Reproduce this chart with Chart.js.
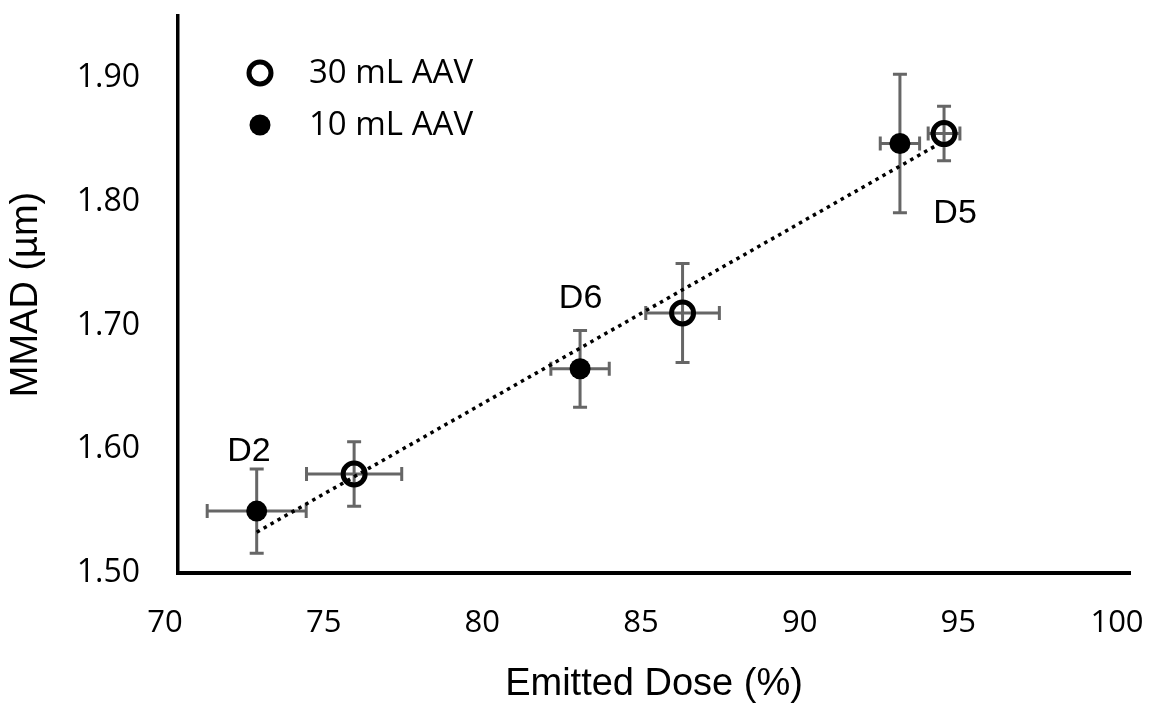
<!DOCTYPE html>
<html>
<head>
<meta charset="utf-8">
<script src="https://cdn.jsdelivr.net/npm/chart.js@4.4.1/dist/chart.umd.min.js"></script>
<style>
  html, body { margin: 0; padding: 0; background: #ffffff; }
  #wrap { width: 1152px; height: 704px; position: relative; }
</style>
</head>
<body>
<div id="wrap"><canvas id="c" width="1152" height="704"></canvas></div>
<script>
// ---- Data ----
const seriesNames = ['30 mL AAV', '10 mL AAV'];

const ed30      = [75.55, 85.90, 94.14];
const mmad30    = [1.580, 1.710, 1.855];
const ed30Err   = [1.50, 1.16, 0.50];
const mmad30Err = [0.026, 0.040, 0.022];

const ed10      = [72.48, 82.67, 92.75];
const mmad10    = [1.550, 1.665, 1.847];
const ed10Err   = [1.56, 0.92, 0.62];
const mmad10Err = [0.034, 0.031, 0.056];

const trendX = [72.48, 94.14];
const trendY = [1.533, 1.849];

const pointLabels = ['D2', 'D6', 'D5'];
const labelX = [72.3, 82.75, 94.55];
const labelY = [1.598, 1.722, 1.790];

const xTicks = [70, 75, 80, 85, 90, 95, 100];
const yTicks = [1.50, 1.60, 1.70, 1.80, 1.90];

const xTitle = 'Emitted Dose (%)';
const yTitle = 'MMAD (µm)';

// ---- Build datasets ----
const toPts = (xs, ys) => xs.map((x, i) => ({ x: x, y: ys[i] }));

const errorBarPlugin = {
  id: 'errorBars',
  beforeDatasetsDraw(chart) {
    const ctx = chart.ctx;
    const xs = chart.scales.x, ys = chart.scales.y;
    const cap = 7;
    ctx.save();
    ctx.strokeStyle = '#666666';
    ctx.lineWidth = 3;
    chart.data.datasets.forEach(ds => {
      if (!ds.xErr) return;
      ds.data.forEach((p, i) => {
        const cx = xs.getPixelForValue(p.x), cy = ys.getPixelForValue(p.y);
        const x1 = xs.getPixelForValue(p.x - ds.xErr[i]);
        const x2 = xs.getPixelForValue(p.x + ds.xErr[i]);
        const y1 = ys.getPixelForValue(p.y + ds.yErr[i]);
        const y2 = ys.getPixelForValue(p.y - ds.yErr[i]);
        ctx.beginPath();
        ctx.moveTo(x1, cy); ctx.lineTo(x2, cy);
        ctx.moveTo(x1, cy - cap); ctx.lineTo(x1, cy + cap);
        ctx.moveTo(x2, cy - cap); ctx.lineTo(x2, cy + cap);
        ctx.moveTo(cx, y1); ctx.lineTo(cx, y2);
        ctx.moveTo(cx - cap, y1); ctx.lineTo(cx + cap, y1);
        ctx.moveTo(cx - cap, y2); ctx.lineTo(cx + cap, y2);
        ctx.stroke();
      });
    });
    ctx.restore();
  }
};

const annotationPlugin = {
  id: 'annots',
  afterDatasetsDraw(chart) {
    const ctx = chart.ctx;
    const xs = chart.scales.x, ys = chart.scales.y;
    ctx.save();
    // point labels
    ctx.fillStyle = '#000';
    ctx.font = '34px "Liberation Sans", Arial, sans-serif';
    ctx.textAlign = 'center';
    ctx.textBaseline = 'middle';
    pointLabels.forEach((t, i) => {
      ctx.fillText(t, xs.getPixelForValue(labelX[i]) - 2, ys.getPixelForValue(labelY[i]));
    });
    // legend
    const lx = 260, ly = [73, 125];
    ctx.font = '33px "Open Sans", sans-serif';
    ctx.textAlign = 'left';
    ctx.beginPath();
    ctx.arc(lx, ly[0], 11, 0, Math.PI * 2);
    ctx.lineWidth = 5;
    ctx.strokeStyle = '#000';
    ctx.stroke();
    ctx.beginPath();
    ctx.arc(lx, ly[1], 10.5, 0, Math.PI * 2);
    ctx.fillStyle = '#000';
    ctx.fill();
    ctx.fillText(seriesNames[0], 309, ly[0] + 1);
    ctx.fillText(seriesNames[1], 309, ly[1] + 1);
    ctx.restore();
  }
};

new Chart(document.getElementById('c'), {
  type: 'scatter',
  data: {
    datasets: [
      {
        label: 'Trend',
        data: toPts(trendX, trendY),
        showLine: true,
        borderColor: '#000',
        borderWidth: 3.5,
        borderDash: [3.5, 4.5],
        pointRadius: 0,
        fill: false,
        order: 3
      },
      {
        label: seriesNames[1],
        data: toPts(ed10, mmad10),
        xErr: ed10Err, yErr: mmad10Err,
        pointRadius: 10.5,
        pointBackgroundColor: '#000',
        pointBorderColor: '#000',
        pointBorderWidth: 0,
        order: 2
      },
      {
        label: seriesNames[0],
        data: toPts(ed30, mmad30),
        xErr: ed30Err, yErr: mmad30Err,
        pointRadius: 11,
        pointBackgroundColor: 'rgba(0,0,0,0)',
        pointBorderColor: '#000',
        pointBorderWidth: 5,
        order: 1
      }
    ]
  },
  options: {
    responsive: false,
    animation: false,
    devicePixelRatio: 1,
    layout: { padding: { top: 12, right: 22, left: 0, bottom: 0 } },
    plugins: {
      legend: { display: false },
      tooltip: { enabled: false }
    },
    scales: {
      x: {
        type: 'linear',
        min: xTicks[0], max: xTicks[xTicks.length - 1],
        afterBuildTicks(scale) { scale.ticks = xTicks.map(v => ({ value: v })); },
        afterFit(scale) {
          scale.height = 131;
          scale.paddingLeft = 0; scale.paddingRight = 0;
          scale.paddingTop = 0; scale.paddingBottom = 0;
        },
        grid: { display: false, drawTicks: false },
        border: { display: true, color: '#000', width: 4 },
        ticks: {
          padding: 32,
          labelOffset: -13,
          color: '#000',
          maxRotation: 0,
          font: { family: '"Open Sans", sans-serif', size: 31 },
          callback: v => String(v)
        },
        title: {
          display: true, text: xTitle, color: '#000',
          font: { family: '"Liberation Sans", Arial, sans-serif', size: 38 },
          padding: { top: 0, bottom: -3 }
        }
      },
      y: {
        type: 'linear',
        min: 1.5, max: 1.95,
        afterBuildTicks(scale) { scale.ticks = yTicks.map(v => ({ value: v })); },
        afterFit(scale) {
          scale.width = 178;
          scale.paddingLeft = 0; scale.paddingRight = 0;
          scale.paddingTop = 0; scale.paddingBottom = 0;
        },
        grid: { display: false, drawTicks: false },
        border: { display: true, color: '#000', width: 3.5 },
        ticks: {
          padding: 38,
          color: '#000',
          font: { family: '"Open Sans", sans-serif', size: 32 },
          callback: v => Number(v).toFixed(2)
        },
        title: {
          display: true, text: yTitle, color: '#000',
          font: { family: '"Liberation Sans", Arial, sans-serif', size: 38 },
          padding: { top: 4, bottom: 0 }
        }
      }
    }
  },
  plugins: [errorBarPlugin, annotationPlugin]
});
</script>
</body>
</html>
